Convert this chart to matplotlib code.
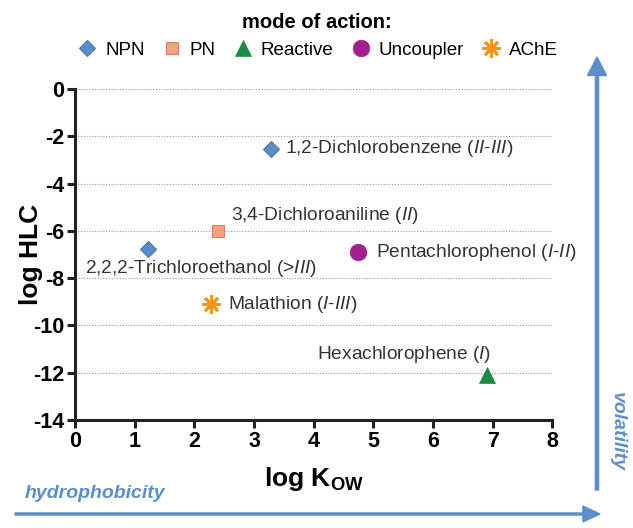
import matplotlib.pyplot as plt
from matplotlib.patches import FancyArrow

plt.rcParams['font.family'] = ['Liberation Sans', 'DejaVu Sans']
plt.rcParams['mathtext.fontset'] = 'custom'
plt.rcParams['mathtext.rm'] = 'Liberation Sans'
plt.rcParams['mathtext.it'] = 'Liberation Sans:italic'
plt.rcParams['mathtext.bf'] = 'Liberation Sans:bold'
plt.rcParams['axes.unicode_minus'] = False

# data
groups = ["NPN", "PN", "Reactive", "Uncoupler", "AChE"]
chems = ["1,2-Dichlorobenzene", "2,2,2-Trichloroethanol", "3,4-Dichloroaniline",
         "Hexachlorophene", "Pentachlorophenol", "Malathion"]
chem_group = ["NPN", "NPN", "PN", "Reactive", "Uncoupler", "AChE"]
class_tag = ["$\\it{II}$-$\\it{III}$", ">$\\it{III}$", "$\\it{II}$", "$\\it{I}$",
             "$\\it{I}$-$\\it{II}$", "$\\it{I}$-$\\it{III}$"]
log_kow = [3.28, 1.22, 2.40, 6.90, 4.75, 2.28]
log_hlc = [-2.52, -6.78, -6.0, -12.1, -6.9, -9.1]

styles = {
    "NPN": dict(marker="D", color="#5b8cc8", ms=8.5, mec="#4a78b0", mew=0.8),
    "PN": dict(marker="s", color="#f5a283", ms=9, mec="#d98060", mew=0.8),
    "Reactive": dict(marker="^", color="#1b8a47", ms=11, mec="#1b8a47", mew=0.5),
    "Uncoupler": dict(marker="o", color="#a3218c", ms=12, mec="#a3218c", mew=0.5),
    "AChE": dict(marker=(8, 2, 0), color="#f7941d", ms=13, mec="#f7941d", mew=2.0),
}
# label offsets in points (dx, dy, ha)
offsets = [(10, 0, "left"), (-45, -14, "left"), (9, 11, "left"),
           (3, 15, "right"), (13, 0, "left"), (12, 0, "left")]

fig = plt.figure(figsize=(6.33, 5.28), dpi=100)
ax = fig.add_axes([0.1185, 0.2045, 0.754, 0.627])

for g in groups:
    xs = [x for x, cg in zip(log_kow, chem_group) if cg == g]
    ys = [y for y, cg in zip(log_hlc, chem_group) if cg == g]
    ax.plot(xs, ys, ls="none", label=g, clip_on=False, zorder=3, **styles[g])

for name, tag, x, y, (dx, dy, ha) in zip(chems, class_tag, log_kow, log_hlc, offsets):
    ax.annotate(f"{name} ({tag})", (x, y), xytext=(dx, dy), textcoords="offset points",
                ha=ha, va="center", fontsize=13.8, color="#333333")

ax.set_xlim(0, 8)
ax.set_ylim(-14, 0)
ax.set_xticks(range(0, 9))
ax.set_yticks(range(-14, 1, 2))
for yv in range(-12, 1, 2):
    ax.axhline(yv, color="#999999", ls=(0, (1, 1.5)), lw=0.8, zorder=1)

for s in ["top", "right"]:
    ax.spines[s].set_visible(False)
for s in ["left", "bottom"]:
    ax.spines[s].set_linewidth(2.2)
    ax.spines[s].set_color("#222222")
ax.tick_params(width=2.2, length=6, color="#222222", labelsize=15.5, pad=2)
for lab in ax.get_xticklabels() + ax.get_yticklabels():
    lab.set_fontweight("bold")

ax.set_ylabel("log HLC", fontsize=19, fontweight="bold")
ax.yaxis.set_label_coords(-0.068, 0.5)
ax.set_xlabel("log K$_{\\mathbf{OW}}$", fontsize=19, fontweight="bold", labelpad=9)

leg = fig.legend(loc="upper center", bbox_to_anchor=(0.5, 1.0), ncol=5, frameon=False,
                 title="mode of action:", fontsize=13.5, handletextpad=0.3,
                 columnspacing=0.8, handlelength=1.3, borderaxespad=0.3)
leg.get_title().set_fontweight("bold")
leg.get_title().set_fontsize(14.5)

blue = "#5b8fcc"
# hydrophobicity arrow
fig.add_artist(FancyArrow(15 / 633, 1 - 514 / 528, 585 / 633, 0, width=0.004,
                          head_width=0.03, head_length=0.027, length_includes_head=True,
                          color=blue, transform=fig.transFigure))
fig.text(25 / 633, 1 - 493 / 528, "hydrophobicity", color=blue, fontsize=14,
         fontweight="bold", style="italic", ha="left", va="center")
# volatility arrow
fig.add_artist(FancyArrow(597 / 633, 1 - 490 / 528, 0, 433 / 528, width=0.005,
                          head_width=0.03, head_length=0.035, length_includes_head=True,
                          color=blue, transform=fig.transFigure))
fig.text(617 / 633, 1 - 432 / 528, "volatility", color=blue, fontsize=14,
         fontweight="bold", style="italic", rotation=-90, ha="center", va="center")

fig.savefig("out.png", dpi=100)
